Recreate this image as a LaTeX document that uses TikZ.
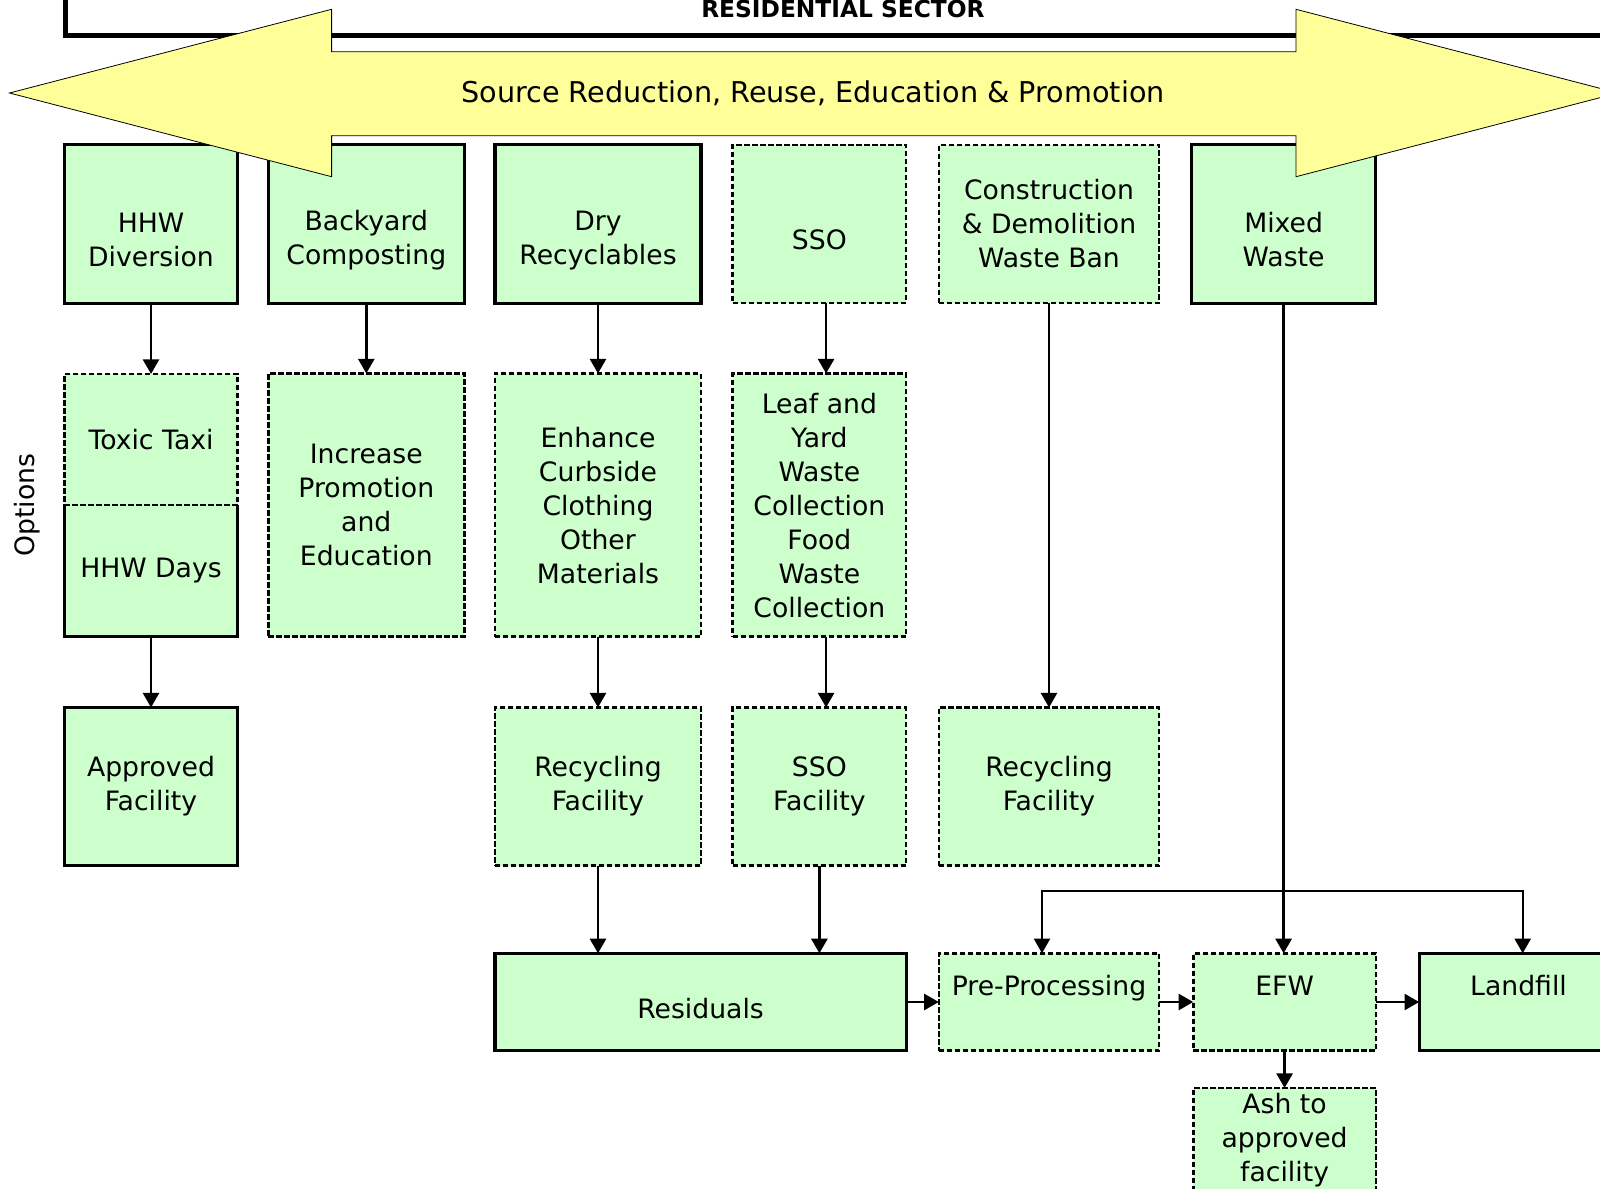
\documentclass[tikz,border=0pt]{standalone}
\usepackage{fontspec}
\setmainfont{DejaVu Sans}
\usetikzlibrary{arrows.meta}
\definecolor{boxgreen}{RGB}{204,255,204}
\definecolor{bandyellow}{RGB}{255,255,153}
% invisible struts that push the text of a box down or up
\newcommand{\dropby}[1]{\rule{0pt}{#1}}
\newcommand{\liftby}[1]{\rule[-#1]{0pt}{#1}}

\tikzset{every picture/.style={line width=0.75pt}}
\tikzset{
  greenbox/.style={fill=boxgreen, align=center, inner sep=0pt, outer sep=0pt,
    font=\fontsize{20}{25.5}\selectfont},
  solidbox/.style={greenbox, draw, line width=2.4pt},
  dashbox/.style={greenbox, draw, line width=1.9pt, dash pattern=on 4pt off 2pt},
  flow/.style={line width=2.1pt, -{Triangle[length=11pt,width=12pt]}},
}

\begin{document}
\begin{tikzpicture}[x=0.75pt,y=0.75pt,yscale=-1,xscale=1]
\useasboundingbox (0,0) rectangle (1600,1189);
\clip (0,0) rectangle (1600,1189);

% sector frame
\draw [line width=3.75pt] (65.5,-10) -- (65.5,35.5) -- (1620,35.5);
\node (sector) [anchor=base, font=\fontsize{17.5}{21}\selectfont\bfseries] at (843,17) {RESIDENTIAL SECTOR};

% row 1
\node (hhw) [solidbox, minimum width=130pt, minimum height=118.7pt] at (151,224) {\dropby{39pt}HHW\\Diversion};
\node (yard) [solidbox, minimum width=147pt, minimum height=118.7pt] at (366.3,224) {\dropby{39pt}Backyard\\Composting};
\node (dry) [solidbox, minimum width=154.6pt, minimum height=118.7pt] at (598,224) {\dropby{39pt}Dry\\Recyclables};
\node (sso) [dashbox, minimum width=130pt, minimum height=118.7pt] at (819.4,224) {\dropby{39pt}SSO};
\node (cd) [dashbox, minimum width=165.3pt, minimum height=118.7pt] at (1049,224) {Construction\\\& Demolition\\Waste Ban};
\node (mixed) [solidbox, minimum width=137.8pt, minimum height=118.7pt] at (1283.6,224) {\dropby{39pt}Mixed\\Waste};

% row 2
\node (days) [greenbox, minimum width=130pt, minimum height=98.8pt] at (151,570.8) {HHW Days};
\draw [line width=2.4pt] (days.north west) -- (days.south west) -- (days.south east) -- (days.north east);
\node (toxic) [dashbox, minimum width=130pt, minimum height=98.3pt] at (151,439.5) {Toxic Taxi};
\node (promo) [dashbox, minimum width=147pt, minimum height=197.4pt] at (366.3,505.1) {Increase\\Promotion\\and\\Education};
\node (curb) [dashbox, minimum width=154.6pt, minimum height=197.4pt] at (598,505.1) {Enhance\\Curbside\\Clothing\\Other\\Materials};
\node (leaf) [dashbox, minimum width=130pt, minimum height=197.4pt] at (819.4,505.1) {Leaf and\\Yard\\Waste\\Collection\\Food\\Waste\\Collection};

% row 3
\node (approved) [solidbox, minimum width=130pt, minimum height=118.5pt] at (151,786.5) {Approved\\Facility};
\node (recyc) [dashbox, minimum width=154.6pt, minimum height=118.5pt] at (598,786.5) {Recycling\\Facility};
\node (ssofac) [dashbox, minimum width=130pt, minimum height=118.5pt] at (819.4,786.5) {SSO\\Facility};
\node (cdrecyc) [dashbox, minimum width=165.3pt, minimum height=118.5pt] at (1049,786.5) {Recycling\\Facility};

% row 4
\node (resid) [solidbox, minimum width=308.4pt, minimum height=73pt] at (700.5,1002) {\dropby{25.5pt}Residuals};
\node (pre) [dashbox, minimum width=165.3pt, minimum height=73pt] at (1049,1002) {Pre-Processing\liftby{25pt}};
\node (efw) [dashbox, minimum width=137pt, minimum height=73pt] at (1284.6,1002) {EFW\liftby{25pt}};
\node (landfill) [solidbox, minimum width=149pt, minimum height=73pt] at (1518.5,1002) {Landfill\liftby{25pt}};
\node (ash) [dashbox, minimum width=137pt, minimum height=78.75pt] at (1284.6,1140.5) {Ash to\\approved\\facility};

\node (opts) [rotate=90, font=\fontsize{20}{24}\selectfont] at (27.6,505) {Options};

% band arrow
\draw [fill=bandyellow, line width=0.6pt] (9.5,93) -- (331.6,9.3) -- (331.6,51.7) -- (1296,51.7) -- (1296,9.3)
  -- (1618,93) -- (1296,176.7) -- (1296,135.7) -- (331.6,135.7) -- (331.6,176.7) -- cycle;
\node (band) [font=\fontsize{21.5}{26}\selectfont] at (813,93) {Source Reduction, Reuse, Education \& Promotion};

% connectors
\draw [flow] (hhw) -- (toxic);
\draw [flow] (yard) -- (promo);
\draw [flow] (dry) -- (curb);
\draw [flow] ([xshift=5pt]sso.south) -- ([xshift=5pt]leaf.north);
\draw [flow] (days) -- (approved);
\draw [flow] (curb) -- (recyc);
\draw [flow] ([xshift=5pt]leaf.south) -- ([xshift=5pt]ssofac.north);
\draw [flow] (cd) -- (cdrecyc);
\draw [flow] (mixed.south) -- (mixed.south |- efw.north);
\draw [flow] (recyc.south) -- (recyc.south |- resid.north);
\draw [flow] (ssofac.south) -- (ssofac.south |- resid.north);
\coordinate (busL) at (1042,890.8);
\coordinate (busR) at (1522.7,890.8);
\draw [flow, line width=1.6pt, {Triangle[length=11pt,width=12pt]}-{Triangle[length=11pt,width=12pt]}]
  (busL |- pre.north) -- (busL) -- (busR) -- (busR |- landfill.north);
\draw [flow] (resid) -- (pre);
\draw [flow] (pre) -- (efw);
\draw [flow] (efw) -- (landfill);
\draw [flow] (efw) -- (ash);
\end{tikzpicture}
\end{document}
